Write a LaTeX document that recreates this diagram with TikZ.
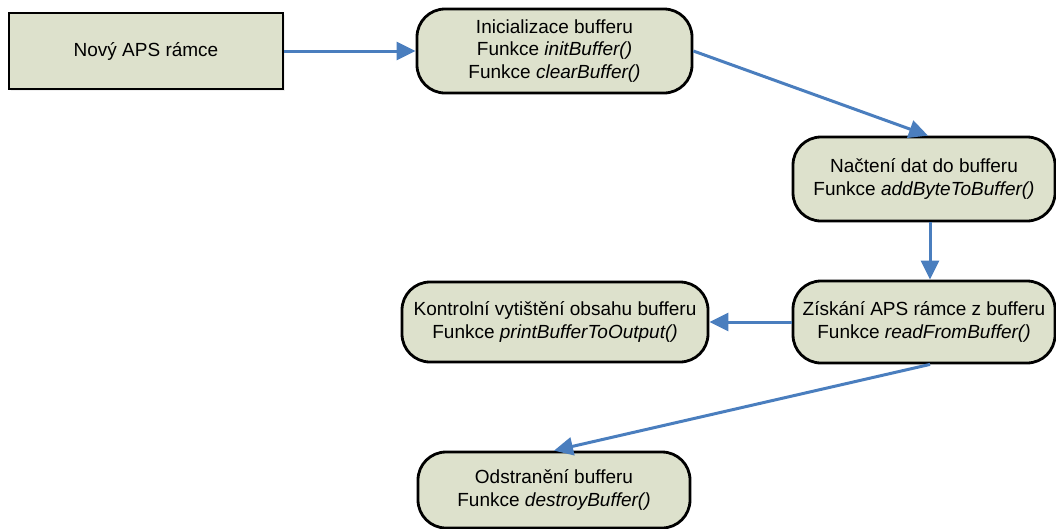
\documentclass[tikz,border=0pt]{standalone}
\usepackage{fontspec}
\setmainfont{Liberation Sans}
\usetikzlibrary{arrows.meta}
\definecolor{boxfill}{RGB}{221,225,204}
\definecolor{flowblue}{RGB}{74,126,190}
\begin{document}
\begin{tikzpicture}[x=1pt,y=-1pt,
  every node/.style={font=\fontsize{19}{22.5}\selectfont, align=center, inner sep=0pt},
  plainbox/.style={draw=black, line width=2.8pt, fill=boxfill},
  stepbox/.style={plainbox, rounded corners=28pt},
  flow/.style={draw=flowblue, line width=3pt, -{Triangle[length=19pt,width=18pt]}}]
  \useasboundingbox (0,0) rectangle (1056,528);

  % start box with a faint drop shadow
  \fill[black, opacity=0.06] (11,15) rectangle (285,91);
  \node[plainbox, minimum width=274pt, minimum height=76pt] (start) at (146,51) {Nový APS rámce};

  \node[stepbox, minimum width=275pt, minimum height=84pt] (init) at (554.5,51)
    {Inicializace bufferu\\Funkce \textit{initBuffer()}\\Funkce \textit{clearBuffer()}};
  \node[stepbox, minimum width=262pt, minimum height=84pt] (load) at (924,179)
    {Načtení dat do bufferu\\Funkce \textit{addByteToBuffer()}};
  \node[stepbox, minimum width=262pt, minimum height=82pt] (read) at (924,322)
    {Získání APS rámce z bufferu\\Funkce \textit{readFromBuffer()}};
  \node[stepbox, minimum width=306pt, minimum height=80pt] (print) at (555,322)
    {Kontrolní vytištění obsahu bufferu\\Funkce \textit{printBufferToOutput()}};
  \node[stepbox, minimum width=272pt, minimum height=76pt] (destroy) at (554,490)
    {Odstranění bufferu\\Funkce \textit{destroyBuffer()}};

  \draw[flow] (start.east) -- (init.west);
  \draw[flow] (init.east) -- ([xshift=4pt]load.north);
  \draw[flow] ([xshift=6pt]load.south) -- ([xshift=6pt]read.north);
  \draw[flow] (read.west) -- (print.east);
  \draw[flow] ([xshift=6pt]read.south) -- (destroy.north);
\end{tikzpicture}
\end{document}
